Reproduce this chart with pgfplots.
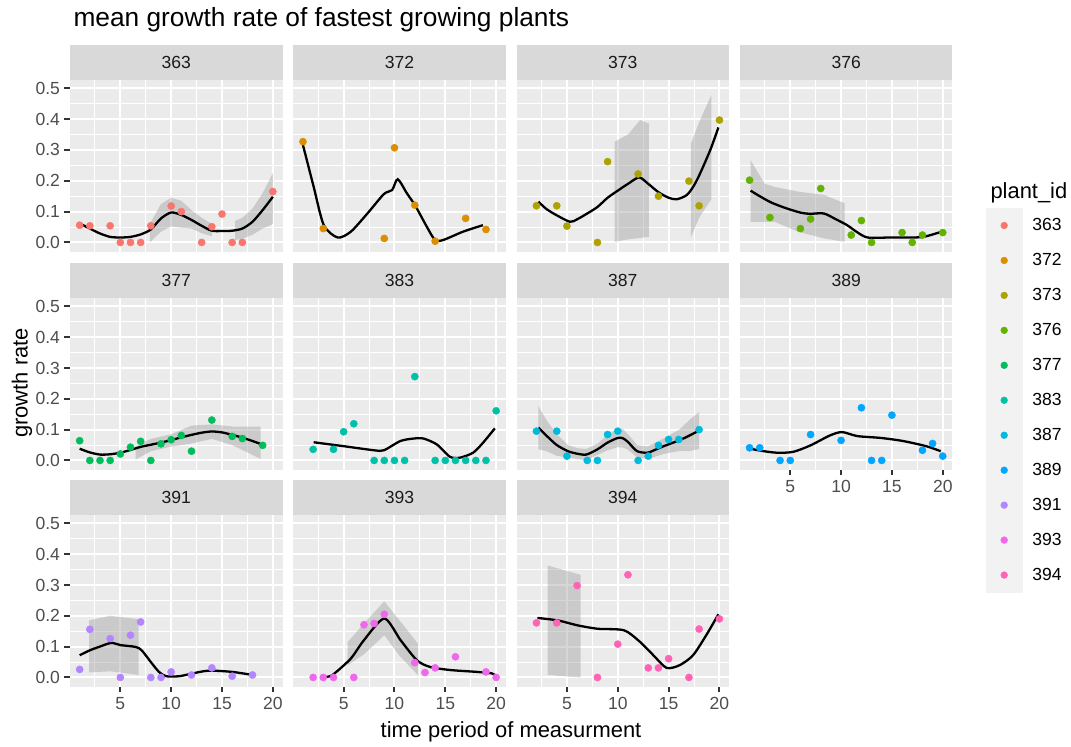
\documentclass[border=0pt]{standalone}
\usepackage{fontspec}
\setmainfont{Liberation Sans}
\usepackage{pgfplots}
\pgfplotsset{compat=1.18}
\definecolor{c363}{HTML}{F8766D}
\definecolor{c372}{HTML}{DB8E00}
\definecolor{c373}{HTML}{AEA200}
\definecolor{c376}{HTML}{64B200}
\definecolor{c377}{HTML}{00BD5C}
\definecolor{c383}{HTML}{00C1A7}
\definecolor{c387}{HTML}{00BADE}
\definecolor{c389}{HTML}{00A6FF}
\definecolor{c391}{HTML}{B385FF}
\definecolor{c393}{HTML}{EF67EB}
\definecolor{c394}{HTML}{FF63B6}
\definecolor{bgc}{HTML}{EBEBEB}
\definecolor{stripbg}{HTML}{D9D9D9}
\definecolor{striptext}{HTML}{1A1A1A}
\definecolor{tickc}{HTML}{333333}
\definecolor{tlc}{HTML}{4D4D4D}
\definecolor{keybg}{HTML}{F2F2F2}
\definecolor{bandc}{HTML}{999999}
\newcommand\ticklab{\fontsize{17.6}{20}\selectfont}
\newcommand\titlefont{\fontsize{26.4}{30}\selectfont}
\newcommand\axtitle{\fontsize{22}{26}\selectfont}
\newcommand\lkey[2]{\addlegendimage{legend image code/.code={\fill[keybg] (0bp,-17.28bp) rectangle (36bp,17.28bp); \fill[#1] (18bp,0bp) circle (3.4bp);}}\addlegendentry{#2}}
\pgfplotsset{
  facet/.style={
    scale only axis, width=212.5bp, height=172bp, anchor=south west,
    xmin=0.05, xmax=20.95, ymin=-0.031, ymax=0.527,
    xtick={5,10,15,20}, xticklabels={5,10,15,20},
    minor xtick={2.5,7.5,12.5,17.5},
    ytick={0,0.1,0.2,0.3,0.4,0.5}, yticklabels={0.0,0.1,0.2,0.3,0.4,0.5},
    minor ytick={0.05,0.15,0.25,0.35,0.45},
    xmajorgrids, ymajorgrids, xminorgrids, yminorgrids,
    major grid style={draw=white, line width=2bp},
    minor grid style={draw=white, line width=1bp},
    axis background/.style={fill=bgc},
    axis line style={draw=none},
    tick align=outside, major tick length=5.5bp, minor tick length=0bp,
    xtick pos=bottom, ytick pos=left,
    major tick style={draw=tickc, line width=2bp},
    minor tick style={draw=none},
    tick label style={font=\ticklab, text=tlc, inner sep=0pt},
    xticklabel style={yshift=-4.4bp},
    yticklabel style={xshift=-4.4bp},
    /pgf/number format/assume math mode=true,
    xmajorticks=false, ymajorticks=false,
  },
  strip/.style={extra description/.code={
    \fill[stripbg] (0,1) rectangle ([yshift=35bp]1,1);
    \node[font=\ticklab, text=striptext] at ([yshift=17.5bp]0.5,1) {#1};}},
  pts/.style={only marks, mark=*, mark size=3.6bp, color=#1},
  fit/.style={black, line width=2.3bp, smooth, tension=0.45, no markers},
  band/.style={draw=none, fill=bandc, fill opacity=0.4},
}
\begin{document}
\begin{tikzpicture}
\useasboundingbox (0,0) rectangle (1071bp,747bp);

% ---------- row 1 ----------
\begin{axis}[facet, strip=363, at={(70bp,495bp)}, ymajorticks=true]
\addplot[pts=c363] coordinates {(1,0.056)(2,0.054)(4,0.054)(5,0)(6,0)(7,0)(8,0.054)(10,0.118)(11,0.10)(13,0)(14,0.051)(15,0.092)(16,0)(17,0)(20,0.165)};
\addplot[band] coordinates {(7.9,0.06)(9,0.125)(10,0.145)(11,0.135)(12,0.105)(13,0.08)(14,0.06)(14,0.02)(13,0.03)(12,0.045)(11,0.048)(10,0.052)(9,0.035)(7.9,0.0)};
\addplot[band] coordinates {(16.3,0.07)(17,0.08)(18,0.11)(19,0.16)(20,0.225)(20,0.06)(19,0.045)(18,0.025)(17,0.012)(16.3,0.008)};
\addplot[fit] coordinates {(1,0.062)(2,0.045)(3,0.029)(4,0.018)(5,0.016)(6,0.018)(7,0.026)(8,0.042)(9,0.078)(10,0.097)(11,0.089)(12,0.073)(13,0.054)(14,0.038)(15,0.037)(16,0.038)(17,0.045)(18,0.067)(19,0.105)(20,0.148)};
\end{axis}

\begin{axis}[facet, strip=372, at={(293.3bp,495bp)}]
\addplot[pts=c372] coordinates {(1,0.327)(3,0.045)(9,0.013)(10,0.307)(12,0.121)(14,0.004)(17,0.078)(19,0.042)};
\addplot[fit] coordinates {(1.0,0.316)(2.05,0.181)(3.05,0.056)(4.42,0.016)(5.71,0.035)(7.34,0.094)(8.96,0.157)(9.77,0.17)(10.32,0.205)(11.23,0.159)(12.05,0.119)(13.18,0.051)(13.99,0.008)(14.8,0.008)(16.75,0.035)(18.7,0.056)};
\end{axis}

\begin{axis}[facet, strip=373, at={(516.6bp,495bp)}]
\addplot[pts=c373] coordinates {(2,0.119)(4,0.119)(5,0.053)(8,0)(9,0.262)(12,0.222)(14,0.150)(17,0.199)(18,0.119)(20,0.397)};
\addplot[band] coordinates {(9.7,0.327)(11,0.35)(12.2,0.397)(13.05,0.386)(13.05,0.018)(11,0.01)(9.7,0.002)};
\addplot[band] coordinates {(17.2,0.32)(18,0.39)(19.2,0.478)(19.2,0.14)(18,0.08)(17.2,0.018)};
\addplot[fit] coordinates {(2.2,0.132)(3,0.108)(4,0.088)(5.3,0.067)(6,0.075)(7,0.094)(8,0.115)(9,0.145)(10,0.168)(11,0.19)(12.1,0.211)(13,0.19)(14,0.163)(15,0.145)(15.8,0.14)(16.8,0.154)(17.5,0.185)(18.1,0.224)(19.1,0.30)(19.9,0.373)};
\end{axis}

\begin{axis}[facet, strip=376, at={(739.9bp,495bp)},
  legend style={at={(1.158,0.2558)}, anchor=north west, draw=none, fill=none,
    inner sep=0pt, outer sep=0pt, row sep=0pt, column sep=10bp,
    font=\ticklab, cells={anchor=west}, nodes={inner sep=0pt}}]
\addplot[pts=c376, forget plot] coordinates {(1,0.202)(3,0.081)(6,0.045)(7,0.076)(8,0.175)(11,0.024)(12,0.071)(13,0)(16,0.032)(17,0)(18,0.024)(20,0.032)};
\addplot[band, forget plot] coordinates {(1.1,0.267)(2.5,0.19)(3.5,0.18)(5.75,0.165)(8.34,0.154)(10.36,0.127)(10.36,0.002)(8.34,0.013)(5.75,0.035)(3.47,0.067)(1.1,0.067)};
\addplot[fit, forget plot] coordinates {(1.1,0.168)(2,0.15)(3.1,0.13)(4.5,0.112)(6.1,0.096)(7,0.093)(8.3,0.094)(9.5,0.075)(10.6,0.056)(11.5,0.035)(12.6,0.016)(14.8,0.016)(16.5,0.016)(18.1,0.018)(19.9,0.035)};
\lkey{c363}{363}
\lkey{c372}{372}
\lkey{c373}{373}
\lkey{c376}{376}
\lkey{c377}{377}
\lkey{c383}{383}
\lkey{c387}{387}
\lkey{c389}{389}
\lkey{c391}{391}
\lkey{c393}{393}
\lkey{c394}{394}
\end{axis}

% ---------- row 2 ----------
\begin{axis}[facet, strip=377, at={(70bp,277bp)}, ymajorticks=true]
\addplot[pts=c377] coordinates {(1,0.064)(2,0)(3,0)(4,0)(5,0.021)(6,0.043)(7,0.062)(8,0)(9,0.054)(10,0.067)(11,0.081)(12,0.030)(14,0.131)(16,0.078)(17,0.071)(19,0.049)};
\addplot[band] coordinates {(6.5,0.046)(8,0.07)(10,0.085)(12,0.113)(14,0.117)(16,0.11)(18.8,0.11)(18.8,0.005)(16,0.05)(14,0.07)(12,0.055)(10,0.045)(8,0.03)(6.5,0.003)};
\addplot[fit] coordinates {(1,0.038)(2,0.026)(3,0.019)(4,0.02)(5,0.025)(6,0.034)(7,0.044)(8,0.051)(9,0.058)(10,0.066)(11,0.075)(12,0.083)(13,0.09)(14,0.094)(15,0.091)(16,0.083)(17,0.074)(18,0.063)(19,0.051)};
\end{axis}

\begin{axis}[facet, strip=383, at={(293.3bp,277bp)}]
\addplot[pts=c383] coordinates {(2,0.036)(4,0.036)(5,0.093)(6,0.119)(8,0)(9,0)(10,0)(11,0)(12,0.272)(14,0)(15,0)(16,0)(17,0)(18,0)(19,0)(20,0.161)};
\addplot[fit] coordinates {(2.05,0.059)(5.06,0.046)(7.99,0.033)(8.96,0.033)(10.58,0.063)(11.88,0.071)(12.86,0.071)(14.16,0.052)(15.45,0.012)(16.43,0.009)(17.73,0.025)(18.7,0.057)(19.87,0.104)};
\end{axis}

\begin{axis}[facet, strip=387, at={(516.6bp,277bp)}]
\addplot[pts=c387] coordinates {(2,0.095)(4,0.095)(5,0.014)(7,0)(8,0)(9,0.084)(10,0.095)(12,0)(13,0.014)(14,0.049)(15,0.068)(16,0.068)(18,0.10)};
\addplot[band] coordinates {(2.2,0.176)(3,0.13)(4,0.085)(5.1,0.05)(6,0.04)(6.9,0.037)(8,0.054)(9,0.083)(10,0.103)(10.5,0.102)(11,0.085)(11.9,0.05)(12.9,0.045)(13.5,0.054)(14.5,0.071)(16.1,0.101)(17,0.13)(18,0.157)(18,0.037)(17,0.03)(16.1,0.031)(14.5,0.021)(13.5,0.01)(12.9,0.005)(11.9,0.01)(11,0.035)(10.5,0.042)(10,0.043)(9,0.033)(8,0.018)(6.9,0.001)(6,0.004)(5.1,0.01)(4,0.015)(3,0.03)(2.2,0.036)};
\addplot[fit] coordinates {(2.2,0.106)(3,0.08)(4,0.05)(5.1,0.03)(6,0.022)(6.9,0.019)(8,0.036)(9,0.058)(10,0.073)(10.5,0.072)(11,0.06)(11.9,0.03)(12.9,0.025)(13.5,0.032)(14.5,0.046)(16.1,0.066)(17,0.08)(18,0.097)};
\end{axis}

\begin{axis}[facet, strip=389, at={(739.9bp,277bp)}, xmajorticks=true]
\addplot[pts=c389] coordinates {(1,0.041)(2,0.041)(4,0)(5,0)(7,0.084)(10,0.065)(12,0.171)(13,0)(14,0)(15,0.147)(18,0.033)(19,0.055)(20,0.014)};
\addplot[fit] coordinates {(1,0.039)(2,0.032)(3.7,0.025)(5.3,0.028)(7,0.049)(8.9,0.081)(10.1,0.092)(11.6,0.079)(13.9,0.073)(16.1,0.063)(18.4,0.046)(19.8,0.030)};
\end{axis}

% ---------- row 3 ----------
\begin{axis}[facet, strip=391, at={(70bp,60bp)}, xmajorticks=true, ymajorticks=true]
\addplot[pts=c391] coordinates {(1,0.026)(2,0.156)(4,0.126)(5,0)(6,0.137)(7,0.18)(8,0)(9,0)(10,0.018)(12,0.008)(14,0.031)(16,0.004)(18,0.008)};
\addplot[band] coordinates {(1.93,0.185)(4,0.2)(6.8,0.189)(6.8,0.008)(4,0.02)(1.93,0.016)};
\addplot[fit] coordinates {(1,0.072)(2,0.088)(2.9,0.099)(4.1,0.112)(5,0.105)(6.5,0.099)(7.1,0.088)(8,0.05)(8.8,0.018)(9.5,0.004)(10.8,0.004)(12.1,0.013)(13.7,0.022)(16,0.018)(18,0.008)};
\end{axis}

\begin{axis}[facet, strip=393, at={(293.3bp,60bp)}, xmajorticks=true]
\addplot[pts=c393] coordinates {(2,0)(3,0)(4,0)(6,0)(7,0.171)(8,0.175)(9,0.205)(12,0.048)(13,0.016)(14,0.031)(16,0.067)(19,0.018)(20,0)};
\addplot[band] coordinates {(5.4,0.115)(7,0.175)(9,0.247)(10.5,0.185)(12.3,0.11)(12.3,0.008)(10.5,0.07)(9,0.137)(7,0.075)(5.4,0.04)};
\addplot[fit] coordinates {(3.2,0.002)(3.9,0.008)(5.7,0.061)(7,0.121)(9,0.191)(10.6,0.121)(12.2,0.056)(13.5,0.034)(15.5,0.024)(18.1,0.018)(19.6,0.013)(20,0.004)};
\end{axis}

\begin{axis}[facet, strip=394, at={(516.6bp,60bp)}, xmajorticks=true]
\addplot[pts=c394] coordinates {(2,0.177)(4,0.177)(6,0.298)(8,0)(10,0.108)(11,0.333)(13,0.031)(14,0.031)(15,0.061)(17,0)(18,0.157)(20,0.19)};
\addplot[band] coordinates {(3.1,0.363)(6.35,0.333)(6.35,0.0)(3.1,0.008)};
\addplot[fit] coordinates {(2.1,0.193)(4.1,0.185)(6.05,0.169)(8,0.158)(10.6,0.153)(12.2,0.115)(13.5,0.072)(14.8,0.031)(16.1,0.040)(17.4,0.072)(18.7,0.137)(19.9,0.205)};
\end{axis}

% ---------- titles ----------
\node[anchor=base west, font=\titlefont] at (70bp,720bp) {mean growth rate of fastest growing plants};
\node[anchor=base, font=\axtitle] at (511bp,10bp) {time period of measurment};
\node[rotate=90, font=\axtitle] at (22bp,364bp) {growth rate};
\node[anchor=base west, font=\axtitle] at (987bp,548bp) {plant\_id};
\end{tikzpicture}
\end{document}
